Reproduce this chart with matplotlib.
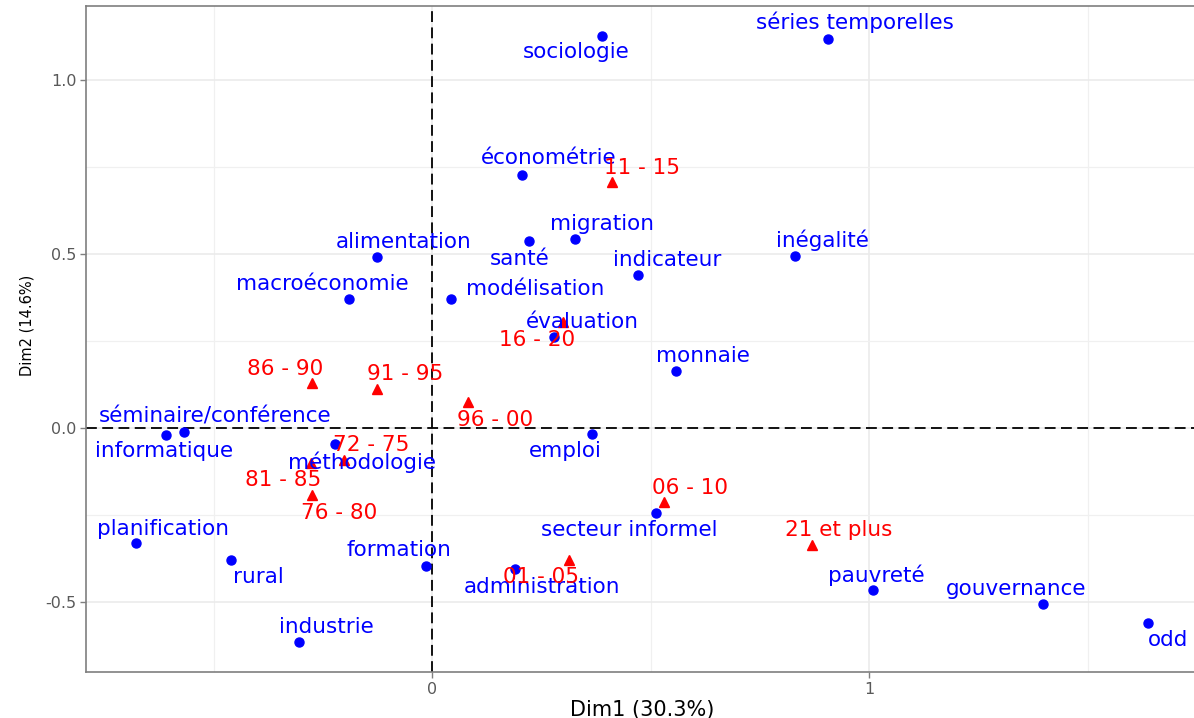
import matplotlib
matplotlib.use("Agg")
import matplotlib.pyplot as plt
from matplotlib.ticker import MultipleLocator

# column points (keywords)
kw_names = ["sociologie", "séries temporelles", "économétrie", "santé", "migration",
            "indicateur", "inégalité", "alimentation", "macroéconomie", "modélisation",
            "évaluation", "monnaie", "emploi", "secteur informel", "administration",
            "formation", "séminaire/conférence", "informatique", "méthodologie",
            "planification", "rural", "industrie", "pauvreté", "gouvernance", "odd"]
kw_dim1 = [0.389, 0.906, 0.206, 0.222, 0.327, 0.471, 0.831, -0.126, -0.190, 0.043,
           0.279, 0.558, 0.366, 0.513, 0.190, -0.014, -0.568, -0.609, -0.222,
           -0.677, -0.460, -0.304, 1.009, 1.398, 1.638]
kw_dim2 = [1.126, 1.118, 0.727, 0.537, 0.543, 0.440, 0.494, 0.491, 0.371, 0.371,
           0.261, 0.164, -0.017, -0.244, -0.405, -0.397, -0.011, -0.020, -0.046,
           -0.331, -0.380, -0.615, -0.466, -0.506, -0.561]

# row points (periods)
per_names = ["11 - 15", "16 - 20", "86 - 90", "91 - 95", "96 - 00", "72 - 75",
             "81 - 85", "76 - 80", "06 - 10", "01 - 05", "21 et plus"]
per_dim1 = [0.412, 0.300, -0.275, -0.126, 0.082, -0.201, -0.277, -0.275, 0.531, 0.313, 0.870]
per_dim2 = [0.707, 0.305, 0.129, 0.112, 0.075, -0.092, -0.100, -0.193, -0.213, -0.379, -0.336]

# label offsets in pixels (repel-like placement)
kw_offsets = {
    "sociologie": (-26, -16), "séries temporelles": (27, 17), "économétrie": (27, 17),
    "santé": (-9, -18), "migration": (27, 15), "indicateur": (29, 15),
    "inégalité": (27, 16), "alimentation": (27, 15), "macroéconomie": (-27, 15),
    "modélisation": (84, 10), "évaluation": (28, 15), "monnaie": (27, 15),
    "emploi": (-27, -17), "secteur informel": (-27, -17), "administration": (27, -18),
    "formation": (-27, 16), "séminaire/conférence": (31, 15), "informatique": (-2, -16),
    "méthodologie": (27, -18), "planification": (27, 14), "rural": (27, -17),
    "industrie": (27, 15), "pauvreté": (3, 15), "gouvernance": (-27, 15), "odd": (20, -17),
}
per_offsets = {
    "11 - 15": (30, 14), "16 - 20": (-26, -18), "86 - 90": (-27, 14), "91 - 95": (28, 15),
    "96 - 00": (27, -18), "72 - 75": (27, 15), "81 - 85": (-28, -17), "76 - 80": (27, -18),
    "06 - 10": (26, 14), "01 - 05": (-28, -17), "21 et plus": (26, 15),
}

plt.rcParams["font.family"] = ["DejaVu Sans"]

fig = plt.figure(figsize=(11.94, 7.18), dpi=100)
ax = fig.add_axes([86 / 1194, 46 / 718, 1116 / 1194, 666 / 718])

ax.set_xlim(-0.792, 1.762)
ax.set_ylim(-0.701, 1.2126)

ax.xaxis.set_major_locator(MultipleLocator(1.0))
ax.xaxis.set_minor_locator(MultipleLocator(0.5))
ax.yaxis.set_major_locator(MultipleLocator(0.5))
ax.yaxis.set_minor_locator(MultipleLocator(0.25))
ax.set_xticklabels([], minor=True)
ax.set_yticklabels([], minor=True)
ax.xaxis.set_major_formatter(matplotlib.ticker.FuncFormatter(lambda v, p: f"{v:g}"))
ax.yaxis.set_major_formatter(matplotlib.ticker.FuncFormatter(lambda v, p: f"{v:.1f}"))

ax.grid(True, which="major", color="#EBEBEB", linewidth=1.2, zorder=0)
ax.grid(True, which="minor", color="#F0F0F0", linewidth=0.9, zorder=0)
ax.set_axisbelow(True)

ax.tick_params(which="major", length=4, width=1, color="#7F7F7F",
               labelcolor="#595959", labelsize=11.5, pad=3)
ax.tick_params(which="minor", length=0)
for s in ax.spines.values():
    s.set_color("#7F7F7F")
    s.set_linewidth(1.2)
ax.spines["right"].set_visible(False)

ax.axhline(0, color="black", linestyle=(0, (6, 3)), linewidth=1.3, zorder=1)
ax.axvline(0, color="black", linestyle=(0, (6, 3)), linewidth=1.3, zorder=1)

ax.plot(kw_dim1, kw_dim2, "o", color="blue", markersize=6.5, zorder=3)
ax.plot(per_dim1, per_dim2, "^", color="red", markersize=7.5, zorder=3)

for name, x, y in zip(kw_names, kw_dim1, kw_dim2):
    ax.annotate(name, (x, y), xytext=kw_offsets[name], textcoords="offset pixels",
                ha="center", va="center", color="blue", fontsize=15.5, zorder=4)
for name, x, y in zip(per_names, per_dim1, per_dim2):
    ax.annotate(name, (x, y), xytext=per_offsets[name], textcoords="offset pixels",
                ha="center", va="center", color="red", fontsize=15.5, zorder=4)

ax.set_xlabel("Dim1 (30.3%)", fontsize=15, color="black")
ax.set_ylabel("Dim2 (14.6%)", fontsize=10.5, color="black")
ax.xaxis.set_label_coords((642 - 86) / 1116, (672 - 700) / 666)
ax.yaxis.set_label_coords((34 - 86) / 1116, (672 - 325) / 666)

fig.savefig("out.png", dpi=100)
plt.close(fig)
